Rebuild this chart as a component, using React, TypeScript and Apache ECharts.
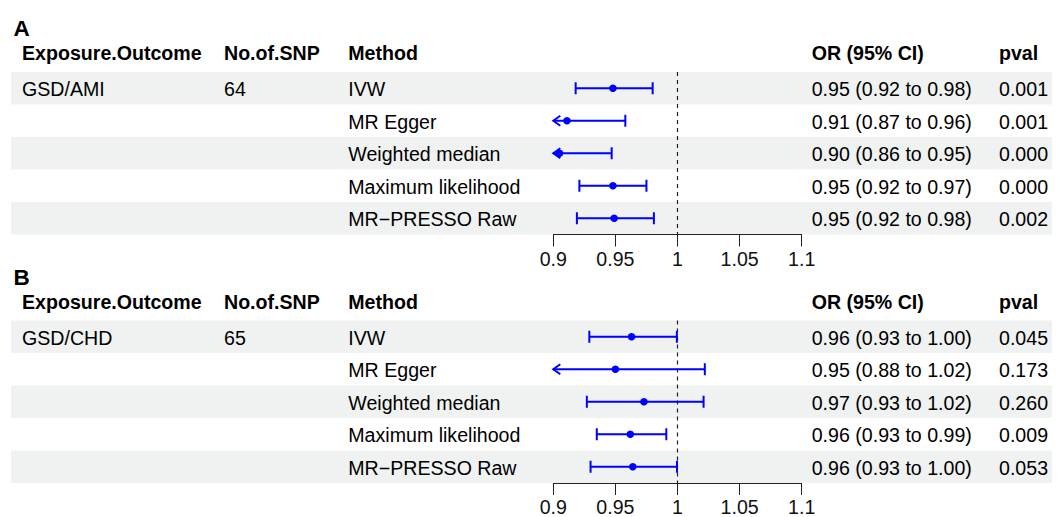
import { useEffect, useRef } from "react";
import * as echarts from "echarts";

// ---------- data ----------
const panelLabels = ["A", "B"];
const headers = ["Exposure.Outcome", "No.of.SNP", "Method", "OR (95% CI)", "pval"];
const exposureOutcome = ["GSD/AMI", "GSD/CHD"];
const nSnp = ["64", "65"];
const methods = ["IVW", "MR Egger", "Weighted median", "Maximum likelihood", "MR\u2212PRESSO Raw"];

const orA = [0.948, 0.911, 0.905, 0.948, 0.949];
const lowA = [0.918, 0.87, 0.86, 0.921, 0.919];
const highA = [0.98, 0.958, 0.947, 0.975, 0.981];
const orTextA = ["0.95 (0.92 to 0.98)", "0.91 (0.87 to 0.96)", "0.90 (0.86 to 0.95)", "0.95 (0.92 to 0.97)", "0.95 (0.92 to 0.98)"];
const pvalA = ["0.001", "0.001", "0.000", "0.000", "0.002"];

const orB = [0.963, 0.95, 0.973, 0.962, 0.964];
const lowB = [0.929, 0.88, 0.927, 0.935, 0.93];
const highB = [0.9995, 1.022, 1.021, 0.991, 0.9996];
const orTextB = ["0.96 (0.93 to 1.00)", "0.95 (0.88 to 1.02)", "0.97 (0.93 to 1.02)", "0.96 (0.93 to 0.99)", "0.96 (0.93 to 1.00)"];
const pvalB = ["0.045", "0.173", "0.260", "0.009", "0.053"];

const xTicks = [0.9, 0.95, 1, 1.05, 1.1];
const refValue = 1;

// ---------- layout ----------
const W = 1059;
const H = 517;
const FONT = "'Liberation Sans', Arial, Helvetica, sans-serif";
const FS = 19.6;
const colX = [22, 224, 348.3, 811.7, 999];
const panelOffset = 248.5;
const labelY0 = 28.5;
const headerY0 = 53.3;
const bandTop0 = 72;
const rowH = 32.5;
const plotLeft = 553.3;
const plotWidth = 248.4;
const bandLeft = 11;
const bandRight = 1052;
const BLUE = "#0000ff";

const panels = [
  { or: orA, low: lowA, high: highA, orText: orTextA, pval: pvalA },
  { or: orB, low: lowB, high: highB, orText: orTextB, pval: pvalB },
];

export default function App() {
  const ref = useRef<HTMLDivElement>(null);

  useEffect(() => {
    if (!ref.current) return;
    const chart = echarts.init(ref.current, null, { renderer: "svg", width: W, height: H });

    const grids: any[] = [];
    const xAxes: any[] = [];
    const yAxes: any[] = [];
    const series: any[] = [];
    const graphics: any[] = [];

    const xMin = xTicks[0];
    const xMax = xTicks[xTicks.length - 1];

    panels.forEach((p, pi) => {
      const off = pi * panelOffset;
      const bandTop = bandTop0 + off;

      methods.forEach((_, ri) => {
        if (ri % 2 === 0) {
          graphics.push({
            type: "rect",
            z: -10,
            shape: { x: bandLeft, y: bandTop + ri * rowH, width: bandRight - bandLeft, height: rowH },
            style: { fill: "#eff2f1" },
          });
        }
      });

      graphics.push({
        type: "text",
        x: 13.5,
        y: labelY0 + off,
        z: 10,
        style: { text: panelLabels[pi], fontSize: 22.5, fontWeight: "bold", fontFamily: FONT, fill: "#000", verticalAlign: "middle", align: "left" },
      });
      headers.forEach((h, ci) => {
        graphics.push({
          type: "text",
          x: colX[ci],
          y: headerY0 + off,
          z: 10,
          style: { text: h, fontSize: FS, fontWeight: "bold", fontFamily: FONT, fill: "#000", verticalAlign: "middle", align: "left" },
        });
      });
      methods.forEach((m, ri) => {
        const y = bandTop + ri * rowH + rowH / 2 + 1;
        const cells = [ri === 0 ? exposureOutcome[pi] : "", ri === 0 ? nSnp[pi] : "", m, p.orText[ri], p.pval[ri]];
        cells.forEach((t, ci) => {
          if (!t) return;
          graphics.push({
            type: "text",
            x: colX[ci],
            y,
            z: 10,
            style: { text: t, fontSize: FS, fontFamily: FONT, fill: "#000", verticalAlign: "middle", align: "left" },
          });
        });
      });

      grids.push({ left: plotLeft, width: plotWidth, top: bandTop, height: rowH * methods.length, containLabel: false });
      xAxes.push({
        type: "value",
        gridIndex: pi,
        min: xMin,
        max: xMax,
        interval: 0.05,
        axisLine: { show: true, lineStyle: { color: "#222", width: 1 } },
        axisTick: { show: true, length: 12, lineStyle: { color: "#222", width: 1 } },
        axisLabel: {
          show: true,
          margin: 14,
          fontSize: FS,
          fontFamily: FONT,
          color: "#111",
          showMinLabel: true,
          showMaxLabel: true,
          formatter: (v: number) => String(+v.toFixed(2)),
        },
        splitLine: { show: false },
      });
      yAxes.push({
        type: "category",
        gridIndex: pi,
        data: methods,
        inverse: true,
        show: false,
      });

      const data = methods.map((_, ri) => [ri, p.or[ri], p.low[ri], p.high[ri]]);
      series.push({
        type: "custom",
        xAxisIndex: pi,
        yAxisIndex: pi,
        clip: false,
        encode: { x: [1, 2, 3], y: 0 },
        data,
        z: 5,
        renderItem: (params: any, api: any) => {
          const row = api.value(0);
          const est = api.value(1);
          const lo = api.value(2);
          const hi = api.value(3);
          const clipLo = lo < xMin;
          const clipHi = hi > xMax;
          const pLo = api.coord([Math.max(lo, xMin), row]);
          const pHi = api.coord([Math.min(hi, xMax), row]);
          const pE = api.coord([est, row]);
          const y = pE[1];
          const lw = 2;
          const cap = 6;
          const st = { stroke: BLUE, lineWidth: lw, fill: "none" };
          const children: any[] = [
            { type: "line", shape: { x1: pLo[0], y1: y, x2: pHi[0], y2: y }, style: st },
          ];
          if (clipLo) {
            children.push({
              type: "polyline",
              shape: { points: [[pLo[0] + 7, y - 5], [pLo[0], y], [pLo[0] + 7, y + 5]] },
              style: st,
            });
          } else {
            children.push({ type: "line", shape: { x1: pLo[0], y1: y - cap, x2: pLo[0], y2: y + cap }, style: st });
          }
          if (clipHi) {
            children.push({
              type: "polyline",
              shape: { points: [[pHi[0] - 7, y - 5], [pHi[0], y], [pHi[0] - 7, y + 5]] },
              style: st,
            });
          } else {
            children.push({ type: "line", shape: { x1: pHi[0], y1: y - cap, x2: pHi[0], y2: y + cap }, style: st });
          }
          children.push({ type: "circle", shape: { cx: pE[0], cy: y, r: 3.8 }, style: { fill: BLUE, stroke: "none" } });
          return { type: "group", children };
        },
        markLine: {
          silent: true,
          symbol: ["none", "none"],
          label: { show: false },
          lineStyle: { color: "#222", width: 1.2, type: [4, 4] },
          data: [{ xAxis: refValue }],
        },
      });
    });

    chart.setOption({
      animation: false,
      backgroundColor: "#ffffff",
      grid: grids,
      xAxis: xAxes,
      yAxis: yAxes,
      series,
      graphic: { elements: graphics },
    });

    return () => chart.dispose();
  }, []);

  return (
    <div
      ref={ref}
      style={{ position: "fixed", left: 0, top: 0, width: W, height: H, background: "#fff" }}
    />
  );
}
